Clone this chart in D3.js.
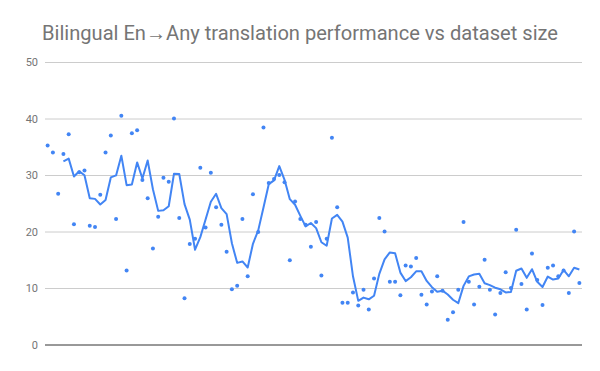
<!DOCTYPE html>
<html>
<head>
<meta charset="utf-8">
<script src="https://cdn.jsdelivr.net/npm/d3@7"></script>
<style>
  html, body { margin: 0; padding: 0; background: #fff; }
  svg { display: block; }
</style>
</head>
<body>
<svg id="chart" width="600" height="371"></svg>
<script>
const title = "Bilingual En\u2192Any translation performance vs dataset size";
const yTicks = [0, 10, 20, 30, 40, 50];
const scores = [
  35.2, 34.0, 26.7, 33.7, 37.2, 21.3, 30.5, 30.8, 21.0, 20.8,
  26.5, 34.0, 37.0, 22.2, 40.5, 13.1, 37.4, 37.9, 29.1, 25.9,
  17.0, 22.6, 29.5, 28.8, 40.0, 22.4, 8.2, 17.8, 18.7, 31.3,
  20.7, 30.4, 24.3, 21.2, 16.4, 9.8, 10.4, 22.2, 12.1, 26.6,
  19.9, 38.4, 28.6, 29.3, 30.0, 28.7, 14.9, 25.3, 22.2, 21.2,
  17.3, 21.7, 12.2, 18.7, 36.6, 24.3, 7.4, 7.4, 9.2, 6.9,
  9.7, 6.2, 11.7, 22.4, 20.0, 11.1, 11.1, 8.7, 14.0, 13.8,
  15.3, 8.8, 7.1, 9.4, 12.1, 9.5, 4.4, 5.7, 9.7, 21.7,
  11.1, 7.1, 10.2, 15.0, 9.7, 5.3, 9.1, 12.8, 10.0, 20.3,
  10.7, 6.2, 16.1, 11.4, 7.0, 13.6, 14.0, 12.1, 13.1, 9.1,
  20.0, 10.9
];
const maPeriod = 4; // moving-average trendline period

(function () {
const svg = d3.select("#chart");
const mLeft = 45, mRight = 582, mTop = 62, mBottom = 344.5;
const n = scores.length;

const x = d3.scaleLinear().domain([-0.5, n - 0.5]).range([mLeft, mRight]);
const y = d3.scaleLinear().domain([0, 50]).range([mBottom, mTop]);

svg.append("text")
  .attr("x", 42).attr("y", 40)
  .attr("font-family", "Roboto, sans-serif")
  .attr("font-size", 20)
  .attr("fill", "#757575")
  .attr("textLength", 516)
  .attr("lengthAdjust", "spacingAndGlyphs")
  .text(title);

const yAxis = d3.axisLeft(y).tickValues(yTicks).tickSize(-(mRight - mLeft)).tickPadding(7);
const gy = svg.append("g").attr("transform", `translate(${mLeft},0)`).call(yAxis);
gy.select(".domain").remove();
gy.selectAll(".tick line").attr("stroke", "#cccccc").attr("stroke-width", 1);
gy.selectAll(".tick text")
  .attr("font-family", "Roboto, sans-serif")
  .attr("font-size", 11)
  .attr("fill", "#757575");
gy.selectAll(".tick").filter(d => d === 0).select("line").attr("stroke", "#333333");

// moving average trendline
const ma = [];
for (let i = maPeriod - 1; i < n; i++) {
  ma.push({ i, v: d3.mean(scores.slice(i - maPeriod + 1, i + 1)) });
}
svg.append("path")
  .datum(ma)
  .attr("fill", "none")
  .attr("stroke", "#4285f4")
  .attr("stroke-width", 2)
  .attr("stroke-linejoin", "round")
  .attr("d", d3.line().x(d => x(d.i)).y(d => y(d.v)));

svg.append("g").selectAll("circle")
  .data(scores)
  .join("circle")
  .attr("cx", (d, i) => x(i))
  .attr("cy", d => y(d))
  .attr("r", 2)
  .attr("fill", "#4285f4");
})();
</script>
</body>
</html>
